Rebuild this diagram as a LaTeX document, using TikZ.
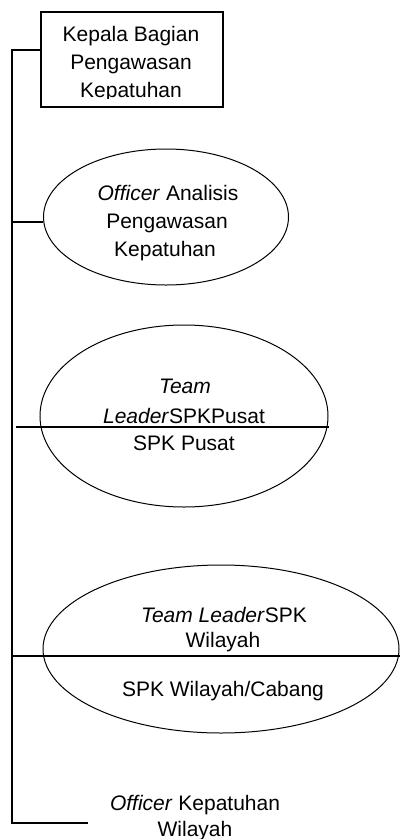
\documentclass[tikz,border=0pt]{standalone}
\usepackage{fontspec}
\setmainfont{Liberation Sans}
\usetikzlibrary{shapes.geometric}

\tikzset{
  txt/.style={inner sep=0pt, anchor=base, font=\fontsize{21}{28}\selectfont},
  oval/.style={draw, ellipse, line width=1pt, inner sep=0pt},
  trunk/.style={line width=2pt, line join=miter},
  split/.style={line width=1.6pt},
}

\begin{document}
\begin{tikzpicture}[x=1pt, y=-1pt]
  \useasboundingbox (0,0) rectangle (400,839);

  % head box
  \node[draw, line width=1.2pt, minimum width=182pt, minimum height=95pt, inner sep=0pt]
    (box) at (132,59.5) {};
  \begin{scope}
    \clip (41,12) rectangle (223,98);
    \node[txt] (b1) at (131,41) {Kepala Bagian};
    \node[txt] (b2) at (131,69) {Pengawasan};
    \node[txt] (b3) at (131,97) {Kepatuhan};
  \end{scope}

  % analyst officer
  \node[oval, minimum width=245pt, minimum height=136pt] (e1) at (166,217) {};
  \node[txt] (e1a) at (168,200) {\textit{Officer} Analisis};
  \node[txt] (e1b) at (167,228) {Pengawasan};
  \node[txt] (e1c) at (165,256) {Kepatuhan};

  % head-office team leader
  \node[oval, minimum width=288pt, minimum height=182pt] (e2) at (184,416) {};
  \node[txt] (e2a) at (185,393) {\textit{Team}};
  \node[txt] (e2b) at (184,423) {\textit{Leader}SPKPusat};
  \node[txt] (e2c) at (184,450) {SPK Pusat};

  % regional team leader
  \node[oval, minimum width=356pt, minimum height=168pt] (e3) at (221,649) {};
  \node[txt] (e3a) at (224,622) {\textit{Team Leader}SPK};
  \node[txt] (e3b) at (223,647) {Wilayah};
  \node[txt] (e3c) at (223,696) {SPK Wilayah/Cabang};

  % regional officer
  \node[txt] (o1) at (195,810) {\textit{Officer} Kepatuhan};
  \node[txt] (o2) at (195,836) {Wilayah};

  % trunk line and branches
  \coordinate (tTop) at (12,50);
  \coordinate (tBot) at (12,823);
  \coordinate (endBot) at (88,823);
  \coordinate (c1) at (12,222);
  \coordinate (c2) at (16,427);
  \coordinate (c3) at (12,656);

  \draw[trunk] (tTop -| box.west) -- (tTop) -- (tBot) -- (endBot);
  \draw[trunk] (c1) -- (c1 -| e1.west);
  \draw[split] (c2) -- (c2 -| e2.east);
  \draw[split] (c3) -- (c3 -| e3.east);
\end{tikzpicture}
\end{document}
